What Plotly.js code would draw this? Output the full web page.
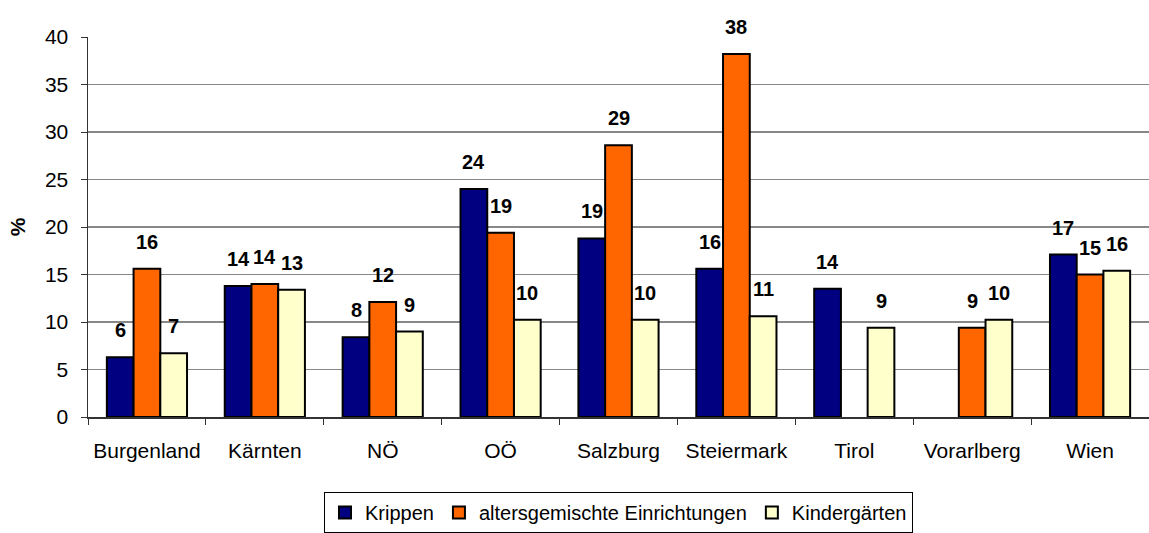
<!DOCTYPE html>
<html>
<head>
<meta charset="utf-8">
<script src="https://cdn.plot.ly/plotly-3.0.1.min.js"></script>
<style>html,body{margin:0;padding:0;background:#fff;}#chart{width:1149px;height:533px;}</style>
</head>
<body>
<div id="chart"></div>
<script>
const categories = ["Burgenland", "Kärnten", "NÖ", "OÖ", "Salzburg", "Steiermark", "Tirol", "Vorarlberg", "Wien"];
const seriesNames = ["Krippen", "altersgemischte Einrichtungen", "Kindergärten"];
const krippen = [6.3, 13.8, 8.4, 24.0, 18.8, 15.6, 13.5, null, 17.1];
const altersgemischt = [15.6, 14.0, 12.1, 19.4, 28.6, 38.2, null, 9.4, 15.0];
const kindergaerten = [6.7, 13.4, 9.0, 10.25, 10.25, 10.6, 9.4, 10.25, 15.4];
const krippenLabels = ["6", "14", "8", "24", "19", "16", "14", "", "17"];
const altersLabels = ["16", "14", "12", "19", "29", "38", "", "9", "15"];
const kinderLabels = ["7", "13", "9", "10", "10", "11", "9", "10", "16"];
const yTicks = [0, 5, 10, 15, 20, 25, 30, 35, 40];

const colors = ["#000080", "#FF6600", "#FFFFCC"];
const values = [krippen, altersgemischt, kindergaerten];
const labels = [krippenLabels, altersLabels, kinderLabels];
const FONT = "Liberation Sans, Arial, sans-serif";
const bargap = 0.32;

const traces = values.map((v, s) => ({
  type: "bar",
  name: seriesNames[s],
  x: categories,
  y: v,
  marker: {color: colors[s], line: {color: "#000000", width: 2}},
  hoverinfo: "skip"
}));

const barFrac = (1 - bargap) / 3;
const annotations = [];
values.forEach((v, s) => {
  v.forEach((val, i) => {
    if (val === null || labels[s][i] === "") return;
    annotations.push({
      x: i + (s - 1) * barFrac,
      y: val,
      xref: "x", yref: "y",
      text: "<b>" + labels[s][i] + "</b>",
      showarrow: false,
      yanchor: "middle",
      yshift: 27,
      font: {family: FONT, size: 20, color: "#000"}
    });
  });
});

const layout = {
  width: 1149,
  height: 533,
  margin: {l: 88, r: 0, t: 37, b: 112},
  paper_bgcolor: "#ffffff",
  plot_bgcolor: "#ffffff",
  barmode: "group",
  bargap: bargap,
  bargroupgap: 0,
  font: {family: FONT, size: 21, color: "#000"},
  showlegend: true,
  legend: {
    orientation: "h",
    x: 0.5, xanchor: "center",
    y: -0.198, yanchor: "top",
    bordercolor: "#000000",
    borderwidth: 1,
    bgcolor: "#ffffff",
    font: {family: FONT, size: 20, color: "#000"},
    traceorder: "normal"
  },
  xaxis: {
    type: "category",
    showline: true,
    linecolor: "#333333",
    linewidth: 1.5,
    ticks: "outside",
    tickson: "boundaries",
    ticklen: 6,
    tickcolor: "#333333",
    showgrid: false,
    ticklabelstandoff: 14,
    tickfont: {family: FONT, size: 21, color: "#000"},
    fixedrange: true
  },
  yaxis: {
    range: [0, 40],
    tickvals: yTicks,
    showline: true,
    linecolor: "#333333",
    linewidth: 1.5,
    ticks: "outside",
    ticklen: 6,
    tickcolor: "#333333",
    showgrid: true,
    gridcolor: "#888888",
    gridwidth: 1.5,
    zeroline: false,
    ticklabelstandoff: 8,
    tickfont: {family: FONT, size: 21, color: "#000"},
    title: {text: "<b>%</b>", font: {family: FONT, size: 21, color: "#000"}, standoff: 13},
    automargin: false,
    fixedrange: true
  },
  annotations: annotations
};

Plotly.newPlot("chart", traces, layout, {displayModeBar: false, staticPlot: true});
</script>
</body>
</html>
